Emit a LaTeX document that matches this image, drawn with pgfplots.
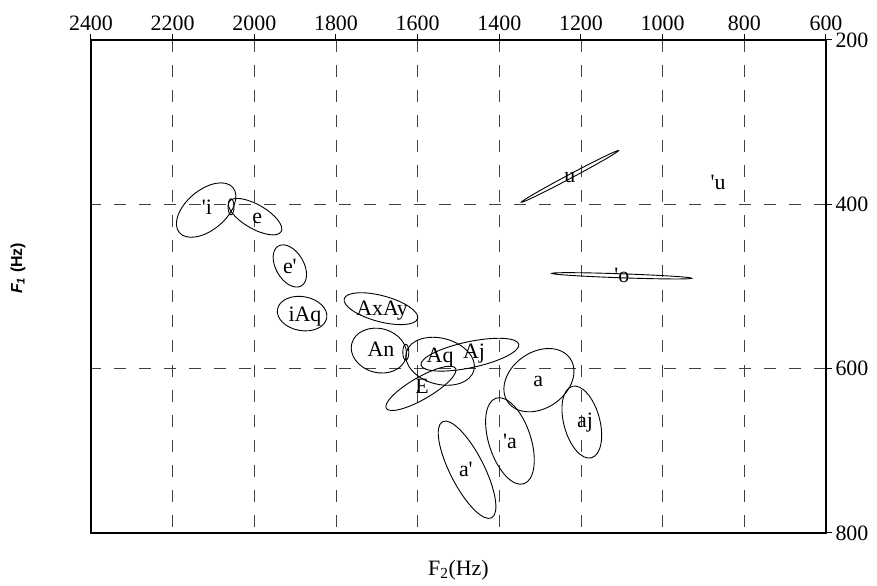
\documentclass[border=0pt]{standalone}
\usepackage{pgfplots}
\pgfplotsset{compat=1.18}
\usepackage{pgfplotstable}
\usepackage{fontspec}
\setmainfont{Liberation Serif}[Ligatures=TeXOff]
\newfontfamily\lsans{Liberation Sans}

\pgfdeclareplotmark{vowelellipse}{%
  \pgftransformrotate{\elang}%
  \pgfpathellipse{\pgfpointorigin}{\pgfpoint{\elrx bp}{0pt}}{\pgfpoint{0pt}{\elry bp}}%
  \pgfusepathqstroke}

% ellipse centres (F2, F1 in Hz), semi-axes (bp) and tilt (degrees)
\pgfplotstableread{
F2 F1 rx ry ang
2118 407 35 20 40
2057 403 3 8 0
1998 415 30 12 -30
1913 475 23 14 -60
1883 533 25 17 -10
1690 527 38 13 -15
1695 578 28 22 -15
1629 580 3 8 0
1545 591 35 23 -15
1472 583 50 13 12
1592 624 40 11 30
1303 614 38 28 35
1374 688 45 21 -72
1479 723 54 17 -63
1198 665 37 18 -75
1227 366 55 2 28
1100 487 70 2 -2
}\ellipses

\pgfplotstableread{
F2 F1 lab
2116 404 'i
1993 417 e
1913 476 e'
1876 536 iAq
1687 529 AxAy
1690 576 An
1545 587 Aq
1462 582 Aj
1589 621 E
1305 615 a
1374 688 'a
1482 723 a'
1190 666 aj
1227 368 u
1100 487 'o
864 373 'u
}\labels

\begin{document}
\begin{tikzpicture}
\begin{axis}[
  scale only axis, width=735bp, height=493bp,
  xmin=600, xmax=2400, ymin=200, ymax=800,
  x dir=reverse, y dir=reverse,
  xtick={600,800,...,2400}, ytick={200,400,600,800},
  xtick pos=right, xticklabel pos=right,
  ytick pos=right, yticklabel pos=right,
  tick align=outside, major tick length=6bp,
  every tick/.style={black, line width=1bp},
  grid=major,
  major grid style={black!75, line width=0.8bp, dash pattern=on 12bp off 13bp},
  axis line style={line width=2bp},
  tick label style={font=\fontsize{22}{22}\selectfont},
  /pgf/number format/assume math mode=true,
  /pgf/number format/set thousands separator={},
  xlabel={F\textsubscript{2}(Hz)},
  xlabel style={at={(axis description cs:0.5,-0.075)}, anchor=center, font=\fontsize{22}{22}\selectfont},
  ylabel={\lsans\bfseries\itshape F\textsubscript{1}\upshape{} (Hz)},
  ylabel style={at={(axis description cs:-0.0993,0.537)}, anchor=center, font=\fontsize{16}{16}\selectfont},
]
\addplot[scatter, only marks, mark=vowelellipse,
  scatter/use mapped color={draw=black, fill=black},
  mark options={solid, line width=0.9bp},
  visualization depends on={\thisrow{rx} \as \elrx},
  visualization depends on={\thisrow{ry} \as \elry},
  visualization depends on={\thisrow{ang} \as \elang},
] table[x=F2, y=F1] {\ellipses};
\addplot[only marks, mark=*, mark size=0pt, mark options={draw=none, fill=none},
  point meta=explicit symbolic, nodes near coords,
  every node near coord/.append style={anchor=center, inner sep=0pt, text=black, font=\fontsize{22}{22}\selectfont},
] table[x=F2, y=F1, meta=lab] {\labels};
\coordinate (SW) at (axis description cs:0,0);
\coordinate (NE) at (axis description cs:1,1);
\end{axis}
\path ([shift={(-91bp,-53bp)}]SW) rectangle ([shift={(51bp,40bp)}]NE);
\end{tikzpicture}
\end{document}
